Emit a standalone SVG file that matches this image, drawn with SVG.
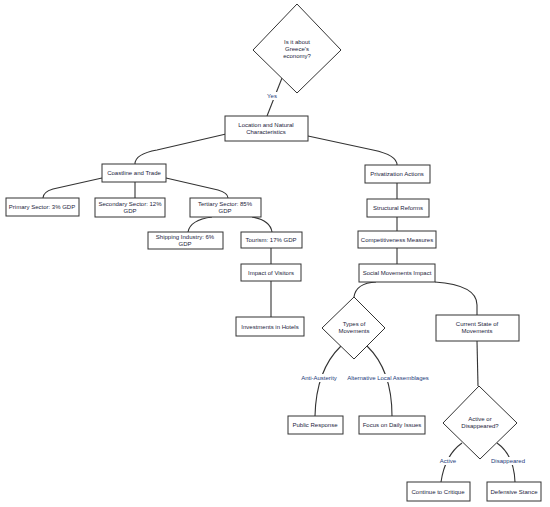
<svg xmlns="http://www.w3.org/2000/svg" width="550" height="507" viewBox="0 0 550 507">
<style>
.n rect, .n polygon { fill: #fff; stroke: #333; stroke-width: 1; }
.n text { font-family: "Liberation Sans", Arial, sans-serif; font-size: 6px; fill: #1c1c3c; text-anchor: middle; }
#edges path { fill: none; stroke: #333; stroke-width: 1.1; }
.bg { fill: #fff; stroke: none; }
.lbl { font-family: "Liberation Sans", Arial, sans-serif; font-size: 6px; fill: #233a7a; text-anchor: middle; }
</style>
<rect width="550" height="507" fill="#fff"/>
<g id="edges">
<path d="M282,78 L267,116"/>
<path d="M226,134 L157,150 Q135,154 135,164"/>
<path d="M308,136 L373,150 Q397,155 397,165"/>
<path d="M102,178 L53,189 Q43,192 43,198"/>
<path d="M135,182 L135,198"/>
<path d="M166,178 L218,190 Q228,193 228,198"/>
<path d="M212,217 Q190,220 188,232"/>
<path d="M252,217 Q270,220 272,232"/>
<path d="M271,248 L271,264"/>
<path d="M271,281 L271,317"/>
<path d="M397,183 L397,199"/>
<path d="M397,217 L397,231"/>
<path d="M397,248 L397,264"/>
<path d="M376,282 Q356,283 354,297"/>
<path d="M435,282 Q477,285 477,305 L477,315"/>
<path d="M341,346 Q316,370 315,416"/>
<path d="M367,346 Q392,370 392,416"/>
<path d="M477,341 L478,386"/>
<path d="M462,443 Q445,455 441,482"/>
<path d="M497,443 Q514,455 515,482"/>
<rect class="bg" x="265" y="92" width="14" height="8"/>
<rect class="bg" x="300" y="374" width="38" height="8"/>
<rect class="bg" x="349" y="374" width="78" height="8"/>
<rect class="bg" x="439" y="457" width="18" height="8"/>
<rect class="bg" x="492" y="457" width="32" height="8"/>
<text class="lbl" x="272" y="98">Yes</text>
<text class="lbl" x="319" y="380">Anti-Austerity</text>
<text class="lbl" x="388" y="380">Alternative Local Assemblages</text>
<text class="lbl" x="448" y="463">Active</text>
<text class="lbl" x="508" y="463">Disappeared</text>
</g>
<g id="q1" class="n"><polygon points="297,4 341,50 297,93 253,50"/><text x="297" y="44">Is it about</text><text x="297" y="51">Greece's</text><text x="297" y="58">economy?</text></g>
<g id="loc" class="n"><rect x="225" y="116" width="83" height="25"/><text x="266" y="127">Location and Natural</text><text x="266" y="134">Characteristics</text></g>
<g id="coast" class="n"><rect x="102" y="164" width="64" height="18"/><text x="134" y="175">Coastline and Trade</text></g>
<g id="primary" class="n"><rect x="6" y="198" width="73" height="18"/><text x="42" y="209">Primary Sector: 3% GDP</text></g>
<g id="secondary" class="n"><rect x="95" y="198" width="70" height="19"/><text x="130" y="206">Secondary Sector: 12%</text><text x="130" y="213">GDP</text></g>
<g id="tertiary" class="n"><rect x="190" y="198" width="71" height="19"/><text x="225" y="206">Tertiary Sector: 85%</text><text x="225" y="213">GDP</text></g>
<g id="shipping" class="n"><rect x="148" y="232" width="75" height="17"/><text x="185" y="239">Shipping Industry: 6%</text><text x="185" y="246">GDP</text></g>
<g id="tourism" class="n"><rect x="241" y="232" width="61" height="16"/><text x="271" y="242">Tourism: 17% GDP</text></g>
<g id="impact" class="n"><rect x="241" y="264" width="60" height="17"/><text x="271" y="275">Impact of Visitors</text></g>
<g id="hotels" class="n"><rect x="236" y="317" width="68" height="19"/><text x="270" y="329">Investments in Hotels</text></g>
<g id="priv" class="n"><rect x="365" y="165" width="65" height="18"/><text x="397" y="176">Privatization Actions</text></g>
<g id="struct" class="n"><rect x="367" y="199" width="62" height="18"/><text x="398" y="210">Structural Reforms</text></g>
<g id="comp" class="n"><rect x="358" y="231" width="78" height="17"/><text x="397" y="242">Competitiveness Measures</text></g>
<g id="social" class="n"><rect x="359" y="264" width="76" height="18"/><text x="397" y="275">Social Movements Impact</text></g>
<g id="types" class="n"><polygon points="354,297 385,328 354,359 322,328"/><text x="354" y="326">Types of</text><text x="354" y="333">Movements</text></g>
<g id="current" class="n"><rect x="436" y="315" width="83" height="26"/><text x="477" y="326">Current State of</text><text x="477" y="333">Movements</text></g>
<g id="public" class="n"><rect x="288" y="416" width="55" height="18"/><text x="315" y="427">Public Response</text></g>
<g id="focus" class="n"><rect x="359" y="416" width="66" height="18"/><text x="392" y="427">Focus on Daily Issues</text></g>
<g id="active" class="n"><polygon points="479,386 517,423 480,459 443,423"/><text x="480" y="421">Active or</text><text x="480" y="428">Disappeared?</text></g>
<g id="cont" class="n"><rect x="407" y="482" width="63" height="19"/><text x="438" y="494">Continue to Critique</text></g>
<g id="def" class="n"><rect x="487" y="482" width="54" height="19"/><text x="514" y="494">Defensive Stance</text></g>
</svg>
